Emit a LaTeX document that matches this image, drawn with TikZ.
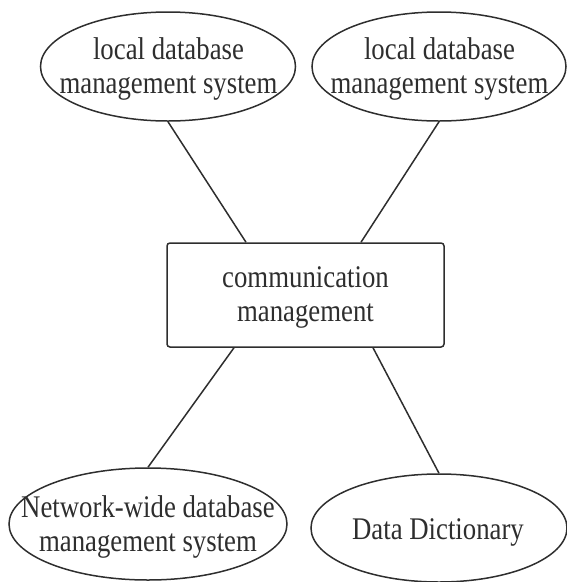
\documentclass[tikz,border=0pt]{standalone}
\usepackage{fontspec}
\setmainfont{Liberation Serif}[FakeStretch=0.85]
\usetikzlibrary{shapes.geometric}
\definecolor{ink}{HTML}{2E2E2E}
\tikzset{
  blob/.style={draw=ink, ellipse, inner sep=0pt, line width=1.5pt},
  hub/.style={draw=ink, rectangle, rounded corners=3pt, inner sep=0pt,
              line width=1.5pt, minimum width=277pt, minimum height=104pt},
  caption/.style={text=ink, align=center, inner sep=0pt,
                  font=\fontsize{31.5}{34}\selectfont},
  link/.style={draw=ink, line width=1.5pt}
}
\begin{document}
\begin{tikzpicture}[x=1pt, y=-1pt]
  \useasboundingbox (0,0) rectangle (567,582);

  % outer systems
  \node[blob, minimum width=255pt, minimum height=109pt] (tl) at (168,66.5) {};
  \node[blob, minimum width=254pt, minimum height=109pt] (tr) at (439,66.5) {};
  \node[blob, minimum width=278pt, minimum height=112pt] (bl) at (148,524) {};
  \node[blob, minimum width=256pt, minimum height=108pt] (br) at (439,528) {};

  % central hub
  \node[hub] (cm) at (305.5,295) {};

  % texts
  \node[caption] (tlt) at (168.5,69) {local database\\management system};
  \node[caption] (trt) at (439.5,69) {local database\\management system};
  \node[caption] (blt) at (148,527) {Network-wide database\\management system};
  \node[caption] (brt) at (438,532) {Data Dictionary};
  \node[caption] (cmt) at (305.5,297) {communication\\management};

  % connectors
  \draw[link] (tl.south) -- ([xshift=-59.5pt]cm.north);
  \draw[link] (tr.south) -- ([xshift=55.5pt]cm.north);
  \draw[link] ([xshift=-71.5pt]cm.south) -- (bl.north);
  \draw[link] ([xshift=67.5pt]cm.south) -- (br.north);
\end{tikzpicture}
\end{document}
